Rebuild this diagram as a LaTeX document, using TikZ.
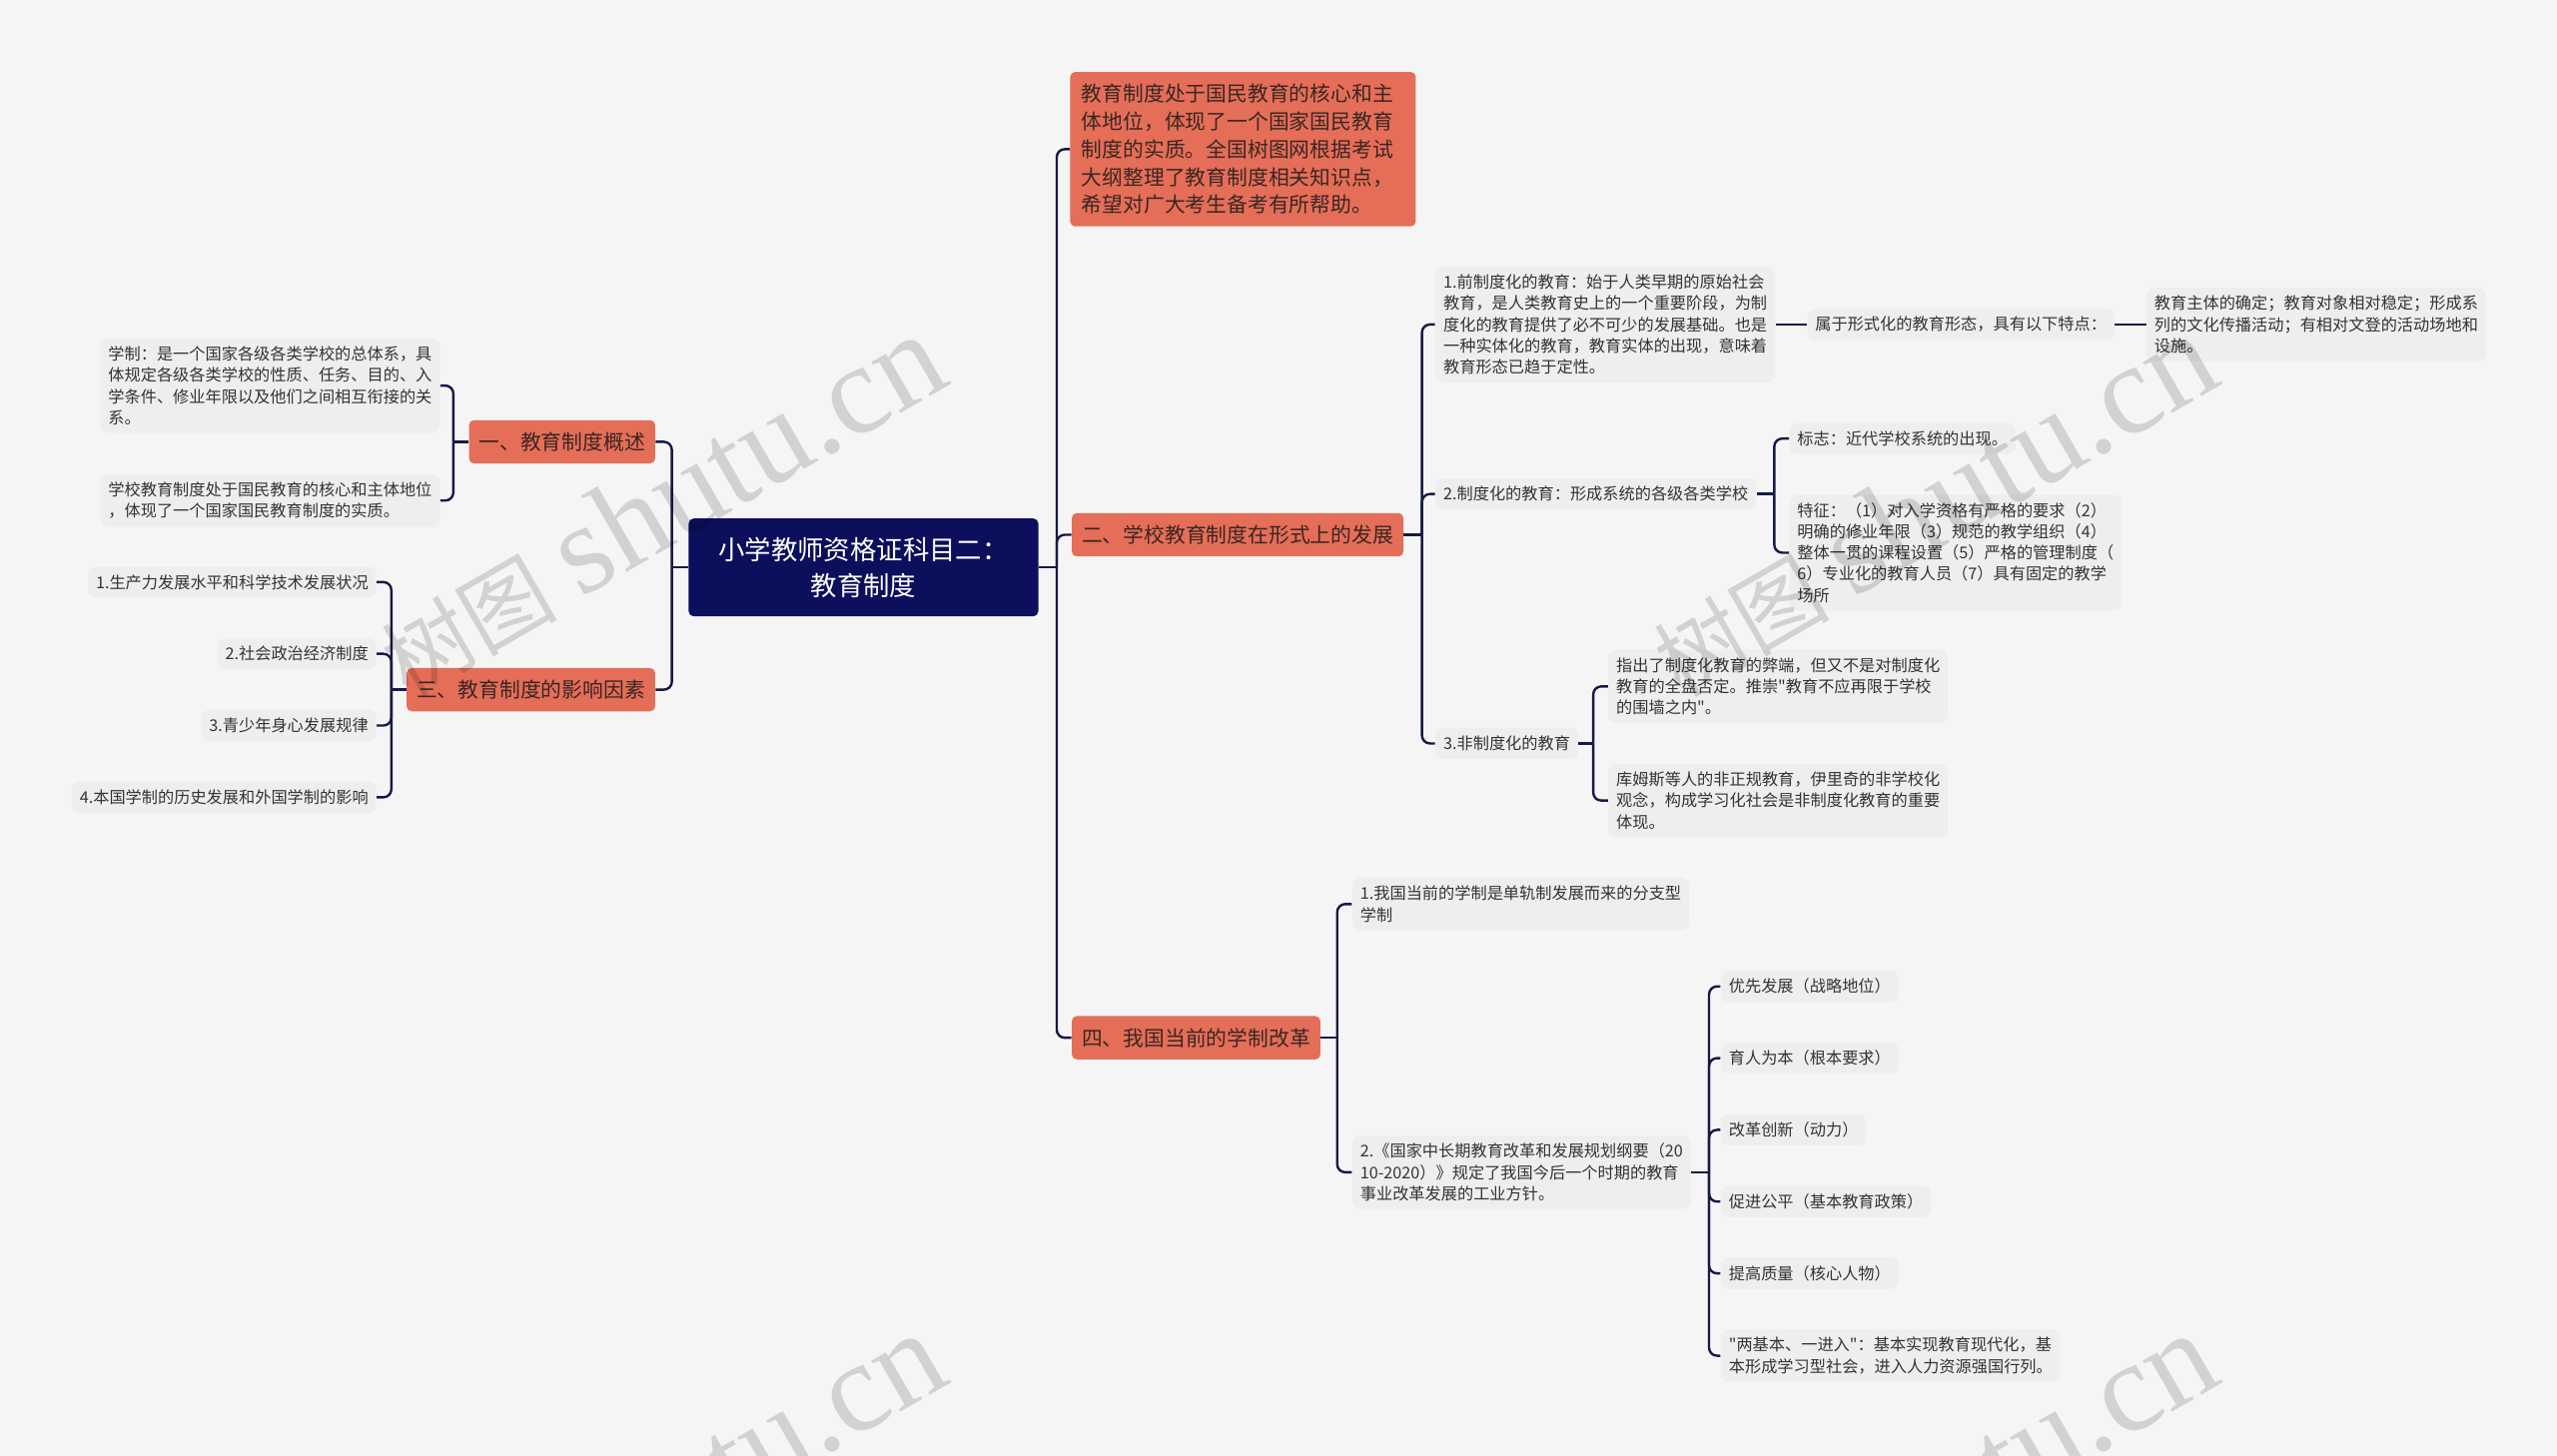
\documentclass[tikz,border=0pt]{standalone}
\usepackage{fontspec}
\setmainfont{Noto Sans CJK SC}[Ligatures=TeXOff]
\newfontfamily\wmserif{Liberation Serif}
\usepackage{tikz}
\usetikzlibrary{positioning,calc}
\definecolor{pagebg}{HTML}{F5F5F5}
\definecolor{rootblue}{HTML}{0B0F5C}
\definecolor{coral}{HTML}{E46E58}
\definecolor{coraltext}{HTML}{3A2622}
\definecolor{leafgray}{HTML}{EEEEEE}
\definecolor{leaftext}{HTML}{333333}
\definecolor{linknavy}{HTML}{161A45}
\tikzset{
  rootbox/.style={fill=rootblue, text=white, rounded corners=2.5pt, align=center, minimum width=175pt, minimum height=49pt, font=\fontsize{13.2}{18}\selectfont},
  branchbox/.style={fill=coral, text=coraltext, rounded corners=2.5pt, align=left, inner xsep=5pt, inner ysep=6pt, font=\fontsize{10.4}{13.9}\selectfont},
  leafbox/.style={fill=leafgray, text=leaftext, rounded corners=4pt, align=left, inner xsep=4pt, inner ysep=4pt, font=\fontsize{8.1}{10.6}\selectfont},
  link/.style={draw=linknavy, line width=1.2pt, rounded corners=4pt},
  wmark/.style={text=black, text opacity=0.14, rotate=30, inner sep=0pt}
}
\newcommand{\wmtext}{{\fontsize{44}{44}\selectfont 树图}\hspace{12pt}{\wmserif\fontsize{64}{64}\selectfont shutu.cn}}

\begin{document}
\begin{tikzpicture}[x=0.8163pt, y=-0.8163pt]
\fill[pagebg] (0,0) rectangle (1568,893);
\useasboundingbox (0,0) rectangle (1568,893);

% centre
\node[rootbox] (root) at (529.5,348) {小学教师资格证科目二：\\教育制度};

% left side
\node[branchbox, anchor=east] (b1) at (402,271) {一、教育制度概述};
\node[branchbox, anchor=east] (b3) at (402,423) {三、教育制度的影响因素};
\node[leafbox, anchor=east] (l1a) at (270,236.5) {学制：是一个国家各级各类学校的总体系，具\\体规定各级各类学校的性质、任务、目的、入\\学条件、修业年限以及他们之间相互衔接的关\\系。};
\node[leafbox, anchor=east] (l1b) at (270,307) {学校教育制度处于国民教育的核心和主体地位\\，体现了一个国家国民教育制度的实质。};
\node[leafbox, anchor=east] (f1) at (231,357) {1.生产力发展水平和科学技术发展状况};
\node[leafbox, anchor=east] (f2) at (231,401) {2.社会政治经济制度};
\node[leafbox, anchor=east] (f3) at (231,445) {3.青少年身心发展规律};
\node[leafbox, anchor=east] (f4) at (231,489) {4.本国学制的历史发展和外国学制的影响};

% right side
\node[branchbox, anchor=west, inner xsep=5.7pt, text width=161.6pt] (top) at (656,91.5) {教育制度处于国民教育的核心和主\\体地位，体现了一个国家国民教育\\制度的实质。全国树图网根据考试\\大纲整理了教育制度相关知识点，\\希望对广大考生备考有所帮助。};
\node[branchbox, anchor=west] (b2) at (657,328) {二、学校教育制度在形式上的发展};
\node[branchbox, anchor=west] (b4) at (657,636.5) {四、我国当前的学制改革};

\node[leafbox, anchor=west] (c1) at (880,199) {1.前制度化的教育：始于人类早期的原始社会\\教育，是人类教育史上的一个重要阶段，为制\\度化的教育提供了必不可少的发展基础。也是\\一种实体化的教育，教育实体的出现，意味着\\教育形态已趋于定性。};
\node[leafbox, anchor=west] (c1a) at (1108,199) {属于形式化的教育形态，具有以下特点：};
\node[leafbox, anchor=west] (c1b) at (1316,199) {教育主体的确定；教育对象相对稳定；形成系\\列的文化传播活动；有相对文登的活动场地和\\设施。};
\node[leafbox, anchor=west] (c2) at (880,303) {2.制度化的教育：形成系统的各级各类学校};
\node[leafbox, anchor=west] (c2a) at (1097,269) {标志：近代学校系统的出现。};
\node[leafbox, anchor=west] (c2b) at (1097,339) {特征：（1）对入学资格有严格的要求（2）\\明确的修业年限（3）规范的教学组织（4）\\整体一贯的课程设置（5）严格的管理制度（\\6）专业化的教育人员（7）具有固定的教学\\场所};
\node[leafbox, anchor=west] (c3) at (880,456) {3.非制度化的教育};
\node[leafbox, anchor=west] (c3a) at (986,421) {指出了制度化教育的弊端，但又不是对制度化\\教育的全盘否定。推崇"教育不应再限于学校\\的围墙之内"。};
\node[leafbox, anchor=west] (c3b) at (986,491) {库姆斯等人的非正规教育，伊里奇的非学校化\\观念，构成学习化社会是非制度化教育的重要\\体现。};

\node[leafbox, anchor=west] (d1) at (829,554.5) {1.我国当前的学制是单轨制发展而来的分支型\\学制};
\node[leafbox, anchor=west] (d2) at (829,719) {2.《国家中长期教育改革和发展规划纲要（20\\10-2020）》规定了我国今后一个时期的教育\\事业改革发展的工业方针。};
\node[leafbox, anchor=west] (e1) at (1055,605) {优先发展（战略地位）};
\node[leafbox, anchor=west] (e2) at (1055,649) {育人为本（根本要求）};
\node[leafbox, anchor=west] (e3) at (1055,693) {改革创新（动力）};
\node[leafbox, anchor=west] (e4) at (1055,737) {促进公平（基本教育政策）};
\node[leafbox, anchor=west] (e5) at (1055,781) {提高质量（核心人物）};
\node[leafbox, anchor=west] (e6) at (1055,831.5) {"两基本、一进入"：基本实现教育现代化，基\\本形成学习型社会，进入人力资源强国行列。};

% junctions
\coordinate (jl) at ($(root.west -| b1.east)+(10,0)$);
\coordinate (jr) at ($(root.east -| top.west)+(-8,0)$);
\coordinate (j1) at ($(b1.west -| l1a.east)+(8,0)$);
\coordinate (j3) at ($(b3.west -| f1.east)+(9,0)$);
\coordinate (j2) at ($(b2.east -| c1.west)+(-8,0)$);
\coordinate (jc2) at ($(c2.east -| c2a.west)+(-9,0)$);
\coordinate (jc3) at ($(c3.east -| c3a.west)+(-9,0)$);
\coordinate (j4) at ($(b4.east -| d1.west)+(-9,0)$);
\coordinate (jd2) at ($(d2.east -| e1.west)+(-7,0)$);

% connectors
\draw[link] (root.west) -- (jl);
\foreach \n in {b1,b3} \draw[link] (jl) |- (\n.east);
\draw[link] (root.east) -- (jr);
\foreach \n in {top,b2,b4} \draw[link] (jr) |- (\n.west);
\draw[link] (b1.west) -- (j1);
\foreach \n in {l1a,l1b} \draw[link] (j1) |- (\n.east);
\draw[link] (b3.west) -- (j3);
\foreach \n in {f1,f2,f3,f4} \draw[link] (j3) |- (\n.east);
\draw[link] (b2.east) -- (j2);
\foreach \n in {c1,c2,c3} \draw[link] (j2) |- (\n.west);
\draw[link] (c1.east) -- (c1a.west);
\draw[link] (c1a.east) -- (c1b.west);
\draw[link] (c2.east) -- (jc2);
\foreach \n in {c2a,c2b} \draw[link] (jc2) |- (\n.west);
\draw[link] (c3.east) -- (jc3);
\foreach \n in {c3a,c3b} \draw[link] (jc3) |- (\n.west);
\draw[link] (b4.east) -- (j4);
\foreach \n in {d1,d2} \draw[link] (j4) |- (\n.west);
\draw[link] (d2.east) -- (jd2);
\foreach \n in {e1,e2,e3,e4,e5,e6} \draw[link] (jd2) |- (\n.west);

% watermark
\begin{scope}
\clip (0,0) rectangle (1568,893);
\node[wmark] (wm1) at (405,310) {\wmtext};
\node[wmark] (wm2) at (1185,310) {\wmtext};
\node[wmark] (wm3) at (405,922) {\wmtext};
\node[wmark] (wm4) at (1185,922) {\wmtext};
\end{scope}
\end{tikzpicture}
\end{document}
